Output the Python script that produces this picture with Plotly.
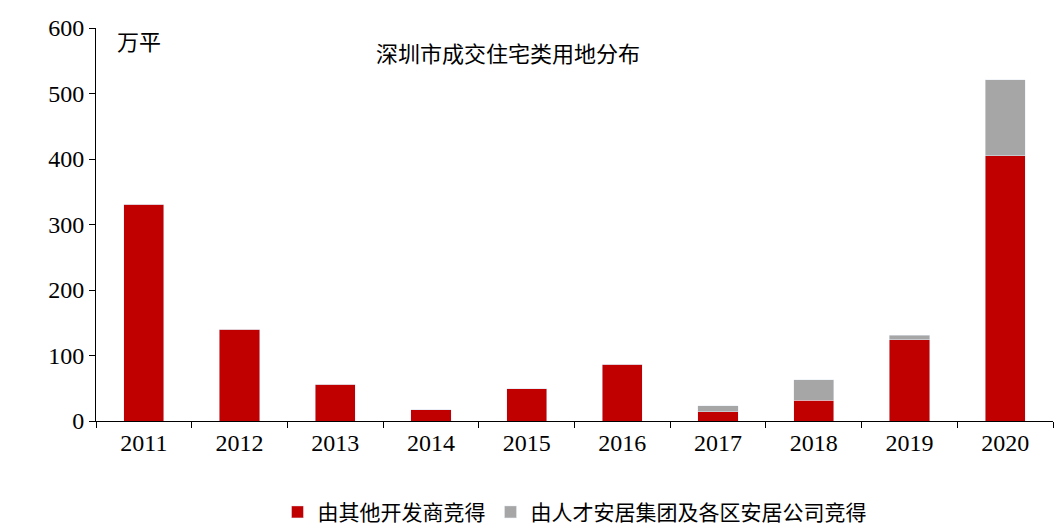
import plotly.graph_objects as go

years = ["2011","2012","2013","2014","2015","2016","2017","2018","2019","2020"]
others = [331, 140, 56, 17, 49, 87, 14, 32, 124, 405]
anju = [0, 0, 0, 0, 0, 0, 9, 31, 7, 116]

font = "Times New Roman, Liberation Serif, Noto Sans CJK SC"
fig = go.Figure()
fig.add_bar(x=years, y=others, name="由其他开发商竞得", marker_color="#C00000")
fig.add_bar(x=years, y=anju, name="由人才安居集团及各区安居公司竞得", marker_color="#A6A6A6")
fig.update_layout(
    barmode="stack", bargap=0.58, width=1063, height=526,
    plot_bgcolor="white", paper_bgcolor="white",
    margin=dict(l=88, r=18, t=20, b=113, autoexpand=False),
    font=dict(family=font, size=22, color="black"),
    legend=dict(orientation="h", x=0.5, xanchor="center", y=-0.18, yanchor="top",
                font=dict(size=21), itemwidth=30, traceorder="normal"),
    xaxis=dict(showline=True, linecolor="black", ticks="outside", tickson="boundaries",
               ticklen=6, tickcolor="black", tickfont=dict(size=24), automargin=False),
    yaxis=dict(range=[0, 600], dtick=100, showline=True, linecolor="black", ticks="outside",
               ticklen=6, tickcolor="black", showgrid=False, zeroline=False,
               tickfont=dict(size=24), automargin=False),
    annotations=[
        dict(text="万平", xref="paper", yref="paper", x=0.02, y=1.0, xanchor="left",
             yanchor="top", showarrow=False, font=dict(size=22)),
        dict(text="深圳市成交住宅类用地分布", xref="paper", yref="paper", x=0.29, y=0.97,
             xanchor="left", yanchor="top", showarrow=False, font=dict(size=22)),
    ],
)
fig.write_html("out.html")
